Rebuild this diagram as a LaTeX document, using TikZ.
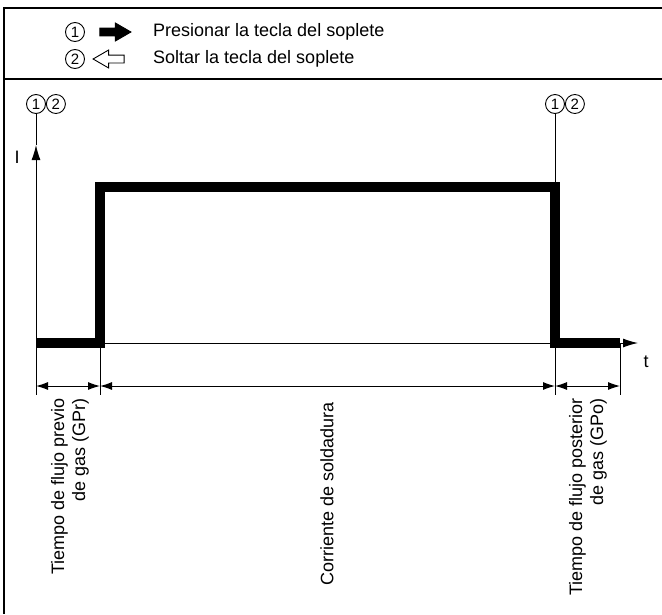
\documentclass[tikz,border=0pt]{standalone}
\usepackage{fontspec}
\setmainfont{Liberation Sans}
\usetikzlibrary{arrows.meta,positioning,calc,shapes.arrows}
\tikzset{
  >={Latex[length=15pt,width=9pt]},
  frame/.style={line width=1.3pt},
  thin/.style={line width=1pt},
  num/.style={draw, circle, line width=0.9pt, inner sep=0pt, minimum size=19pt, font=\fontsize{15}{15}\selectfont},
  lbl/.style={inner sep=0pt, font=\fontsize{18}{21}\selectfont},
  vlbl/.style={lbl, rotate=90, anchor=east, align=right},
  keyarrow/.style={single arrow, draw, line width=0.9pt, inner sep=3.5pt, minimum height=31pt,
    single arrow head extend=5pt, single arrow tip angle=60},
  wave/.style={line width=10pt, miter limit=4},
  dim/.style={thin, {Latex[length=12pt,width=8pt]}-{Latex[length=12pt,width=8pt]}},
}

\begin{document}
\begin{tikzpicture}[x=1pt, y=-1pt]
  \useasboundingbox (0,0) rectangle (662,614);
  \draw[frame] (662,8) -- (4,8) -- (4,614);
  \draw[frame] (4,79) -- (662,79);

  \node[num] (k1) at (75,32) {1};
  \node[num] (k2) at (75,59) {2};
  \node[keyarrow, fill=black] (push) at (112,32) {};
  \node[keyarrow, shape border rotate=180] (release) at (112,59) {};
  \node[lbl, anchor=west] (pushtxt) at (153,32) {Presionar la tecla del soplete};
  \node[lbl, anchor=west] (releasetxt) at (153,59) {Soltar la tecla del soplete};

  \node[num] (a1) at (36,104) {1};
  \node[num, right=0pt of a1] (a2) {2};
  \node[num] (b1) at (555,104) {1};
  \node[num, right=0pt of b1] (b2) {2};

  \coordinate (o) at (36,343);
  \coordinate (itop) at (36,145);
  \coordinate (tend) at (638,343);
  \coordinate (r0) at (100,343);
  \coordinate (r1) at (100,187);
  \coordinate (f1) at (555,187);
  \coordinate (f0) at (555,343);
  \coordinate (e0) at (620,343);

  \draw[thin] (a1) -- (itop);
  \draw[thin, ->] (o) -- (itop);
  \draw[thin, ->] (o) -- (tend);
  \draw[thin] (b1) -- (f1);
  \node[lbl] (I) at (17,157) {I};
  \node[lbl] (t) at (646,362) {t};

  \draw[wave] (o) -- (r0) -- (r1) -- (f1) -- (f0) -- (e0);

  \foreach \p/\q in {o/d0, r0/d1, f0/d2, e0/d3} {
    \draw[thin] (\p) -- ++(0,52);
    \coordinate (\q) at ($(\p)+(0,43)$);
  }
  \draw[dim] (d0) -- (d1);
  \draw[dim] (d1) -- (d2);
  \draw[dim] (d2) -- (d3);

  \node[vlbl] (gpr) at (70,398) {Tiempo de flujo previo\\de gas (GPr)};
  \node[vlbl] (weld) at (327,402) {Corriente de soldadura};
  \node[vlbl] (gpo) at (588,398) {Tiempo de flujo posterior\\de gas (GPo)};
\end{tikzpicture}
\end{document}
